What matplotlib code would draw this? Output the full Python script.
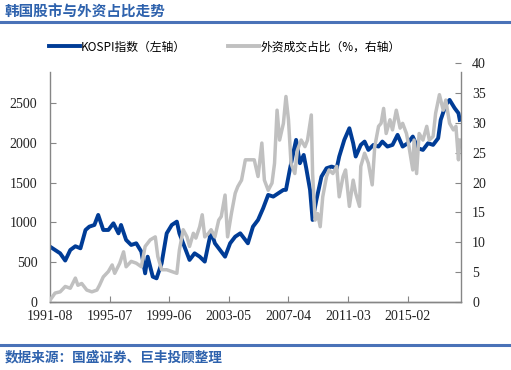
#!/usr/bin/env python3

import numpy as np
import matplotlib
matplotlib.use('Agg')
import matplotlib.pyplot as plt
from matplotlib.lines import Line2D

# months since 1991-08
kospi_month = [0, 4, 8, 12, 16, 20, 24, 28, 31, 35, 38, 42, 46, 50, 54, 56, 60, 64, 68, 72,
               75, 77, 81, 84, 88, 92, 96, 100, 102, 106, 110, 114, 118, 122, 125, 127, 130,
               134, 138, 142, 146, 150, 154, 156, 160, 164, 168, 172, 176, 180, 184, 186,
               189, 192, 194, 197, 200, 202, 205, 207, 210, 214, 218, 222, 226, 228, 232,
               236, 239, 241, 245, 248, 251, 255, 259, 262, 266, 270, 274, 278, 282, 286,
               290, 294, 298, 302, 306, 308, 312, 315, 319, 322, 323]
kospi_value = [695, 653, 611, 520, 653, 700, 674, 904, 946, 967, 1093, 904, 904, 988, 862,
               967, 779, 716, 737, 632, 360, 569, 318, 297, 486, 862, 967, 1009, 862, 695,
               528, 611, 569, 507, 737, 883, 737, 653, 569, 737, 820, 862, 779, 737, 946,
               1030, 1176, 1344, 1323, 1365, 1407, 1407, 1658, 1888, 2035, 1742, 1846, 1679,
               1407, 1030, 1281, 1574, 1679, 1700, 1679, 1826, 2035, 2181, 1993, 1826, 1972,
               2014, 1909, 1972, 1951, 2014, 1951, 1972, 2098, 1951, 1993, 2077, 1930, 1909,
               1993, 1972, 2056, 2286, 2475, 2537, 2433, 2370, 2286]

foreign_month = [0, 4, 8, 12, 16, 20, 22, 25, 29, 33, 37, 39, 42, 46, 49, 51, 55, 58, 60, 64,
                 68, 72, 75, 79, 83, 85, 88, 92, 96, 100, 102, 105, 108, 110, 113, 115, 118,
                 120, 122, 125, 127, 130, 133, 135, 138, 140, 143, 146, 148, 151, 154, 157,
                 161, 164, 167, 169, 172, 175, 177, 179, 181, 184, 186, 188, 190, 193, 195,
                 198, 201, 203, 206, 207, 209, 211, 213, 215, 218, 220, 223, 226, 228, 231,
                 233, 236, 239, 241, 244, 245, 248, 251, 254, 256, 259, 261, 263, 265, 268,
                 270, 273, 276, 278, 281, 283, 286, 287, 289, 291, 294, 297, 299, 302, 304,
                 307, 310, 312, 315, 318, 320, 322, 323]
foreign_value = [0.3, 1.5, 1.7, 2.6, 2.3, 4.0, 2.8, 3.1, 2.0, 1.7, 2.0, 2.8, 4.2, 5.1, 6.2,
                 4.8, 6.5, 8.4, 5.9, 6.8, 6.5, 5.9, 9.3, 10.4, 10.9, 7.6, 5.4, 5.4, 5.1, 4.8,
                 8.7, 12.1, 10.9, 9.3, 11.5, 10.7, 12.6, 14.6, 10.9, 11.5, 12.1, 10.9, 13.7,
                 14.3, 17.9, 10.9, 14.8, 18.2, 19.3, 20.4, 23.8, 23.8, 23.8, 21.0, 26.6, 20.4,
                 18.7, 19.9, 23.2, 32.1, 27.1, 29.9, 34.4, 30.5, 23.2, 21.5, 25.4, 27.1, 26.0,
                 27.1, 31.3, 21.5, 13.7, 14.8, 12.6, 17.6, 21.0, 22.1, 21.5, 22.7, 17.6, 21.0,
                 22.1, 16.0, 20.4, 18.2, 16.0, 22.7, 24.9, 23.2, 19.6, 26.0, 29.4, 29.9, 32.4,
                 28.2, 30.5, 28.8, 32.1, 29.1, 29.9, 28.2, 26.0, 22.1, 27.1, 21.5, 28.2, 27.1,
                 29.4, 27.1, 27.7, 31.6, 34.7, 32.1, 33.8, 29.9, 28.8, 29.4, 23.8, 27.1]

tick_month = [0, 47, 94, 141, 188, 235, 282]
tick_label = ['1991-08', '1995-07', '1999-06', '2003-05', '2007-04', '2011-03', '2015-02']
left_ticks = [0, 500, 1000, 1500, 2000, 2500]
right_ticks = [0, 5, 10, 15, 20, 25, 30, 35, 40]

title = '韩国股市与外资占比走势'
source = '数据来源：国盛证券、巨丰投顾整理'
kospi_name = 'KOSPI指数（左轴）'
foreign_name = '外资成交占比（%，右轴）'

plt.rcParams['font.family'] = ['Noto Sans CJK SC', 'DejaVu Sans']

BLUE = '#003C96'
GRAY = '#C0C0C0'
HEAD = '#2E62AD'
AXC = '#868686'
SERIF = dict(fontfamily='Liberation Serif', fontsize=10, color='#222222')


def main():
	fig = plt.figure(figsize=(5.11, 3.70), dpi=100)
	ax = fig.add_axes([50/511, 1-302/370, 411/511, 239/370])
	ax2 = ax.twinx()

	ax.plot(kospi_month, kospi_value, color=BLUE, lw=2.8, solid_joinstyle='round')
	ax2.plot(foreign_month, foreign_value, color=GRAY, lw=2.5, solid_joinstyle='round')

	ax.set_xlim(0, 324)
	ax.set_ylim(0, 3000)
	ax2.set_ylim(0, 40)
	ax.set_yticks(left_ticks, labels=[str(v) for v in left_ticks], **SERIF)
	ax2.set_yticks(right_ticks, labels=[str(v) for v in right_ticks], **SERIF)
	ax.set_xticks(tick_month, labels=tick_label, ha='center', **SERIF)

	for a in (ax, ax2):
		a.spines['top'].set_visible(False)
		for s in ('left', 'right', 'bottom'):
			a.spines[s].set_color(AXC)
			a.spines[s].set_linewidth(1.0)
		a.tick_params(direction='in', length=4, color=AXC)
	ax.spines['left'].set_bounds(0, 2890)
	ax2.spines['right'].set_bounds(0, 38.5)
	ax.spines['right'].set_visible(False)
	ax2.spines['left'].set_visible(False)
	ax.tick_params(axis='y', pad=9)
	ax2.tick_params(axis='y', pad=8)
	ax.tick_params(axis='x', pad=6)

	handles = [Line2D([], [], color=BLUE, lw=2.8), Line2D([], [], color=GRAY, lw=2.8)]
	fig.legend(handles, [kospi_name, foreign_name], loc='center left',
			   bbox_to_anchor=(49/511, 1-47/370), ncol=2, frameon=False,
			   fontsize=8.5, handlelength=2.6, handletextpad=0.1,
			   columnspacing=3.6, borderpad=0, borderaxespad=0)

	fig.text(5/511, 1-12/370, title, color=HEAD, fontsize=10.5, fontweight='bold',
			 ha='left', va='center')
	fig.text(5/511, 1-357/370, source, color=HEAD, fontsize=9.8, fontweight='bold',
			 ha='left', va='center')
	fig.add_artist(Line2D([0, 1], [1-22/370, 1-22/370], color='#4A72B8', lw=2.2))
	fig.add_artist(Line2D([0, 1], [1-345/370, 1-345/370], color='#4A72B8', lw=2.2))

	fig.savefig('out.png', dpi=100)


if __name__ == '__main__':
	main()
